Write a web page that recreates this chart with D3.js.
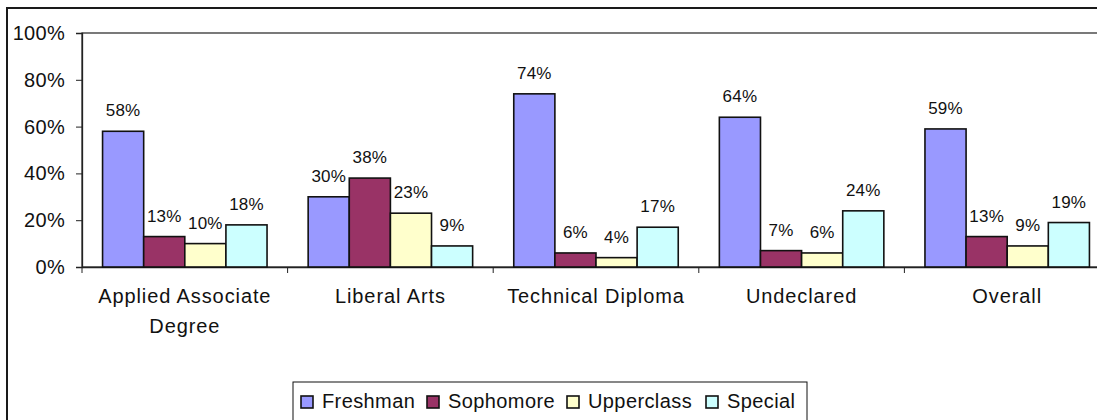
<!DOCTYPE html>
<html>
<head>
<meta charset="utf-8">
<script src="https://cdn.jsdelivr.net/npm/d3@7"></script>
<style>
  body { margin: 0; background: #fff; overflow: hidden; }
  svg { display: block; font-family: "Liberation Sans", Arial, sans-serif; }
</style>
</head>
<body>
<div id="chart"></div>
<script>
var categories = ['Applied Associate Degree', 'Liberal Arts', 'Technical Diploma', 'Undeclared', 'Overall'];
var seriesNames = ['Freshman', 'Sophomore', 'Upperclass', 'Special'];
var freshman = [58, 30, 74, 64, 59];
var sophomore = [13, 38, 6, 7, 13];
var upperclass = [10, 23, 4, 6, 9];
var special = [18, 9, 17, 24, 19];
var yTicks = [0, 20, 40, 60, 80, 100];
var colors = ['#9999FF', '#993366', '#FFFFCC', '#CCFFFF'];

var allSeries = [freshman, sophomore, upperclass, special];
var rows = categories.map(function(c, i) {
  return { cat: c, vals: seriesNames.map(function(s, j) { return { name: s, v: allSeries[j][i], idx: j }; }) };
});

var W = 1097, H = 420;
var plot = { left: 82, right: 1110, top: 33, bottom: 267 };

var svg = d3.select('#chart').append('svg')
  .attr('width', W)
  .attr('height', H);

// outer chart border (runs off the picture on the right and bottom)
svg.append('rect')
  .attr('x', 7).attr('y', 8)
  .attr('width', 1130).attr('height', 440)
  .attr('fill', '#fff')
  .attr('stroke', '#1a1a1a')
  .attr('stroke-width', 2);

var x0 = d3.scaleBand()
  .domain(categories)
  .range([plot.left, plot.right])
  .paddingInner(0).paddingOuter(0);

var x1 = d3.scaleBand()
  .domain(seriesNames)
  .range([0, x0.bandwidth()])
  .paddingInner(0).paddingOuter(0.5);

var y = d3.scaleLinear()
  .domain([0, 100])
  .range([plot.bottom, plot.top]);

// plot area frame
svg.append('rect')
  .attr('x', plot.left).attr('y', plot.top)
  .attr('width', plot.right - plot.left).attr('height', plot.bottom - plot.top)
  .attr('fill', 'none')
  .attr('stroke', '#333')
  .attr('stroke-width', 1.3);

// y axis
var yAxis = d3.axisLeft(y)
  .tickValues(yTicks)
  .tickFormat(function(d) { return d + '%'; })
  .tickSize(6)
  .tickPadding(11);

var yG = svg.append('g')
  .attr('transform', 'translate(' + plot.left + ',0)')
  .call(yAxis);
yG.select('.domain').attr('stroke', '#222').attr('stroke-width', 1.3);
yG.selectAll('.tick line').attr('stroke', '#222');
yG.selectAll('.tick text')
  .attr('fill', '#111')
  .style('font-size', '20px')
  .style('letter-spacing', '0.3px')
  .style('font-family', '"Liberation Sans", Arial, sans-serif');

// x axis line and category ticks
var xAxis = d3.axisBottom(x0).tickSize(0).tickFormat('');
var xG = svg.append('g')
  .attr('transform', 'translate(0,' + plot.bottom + ')')
  .call(xAxis);
xG.select('.domain').attr('stroke', '#222').attr('stroke-width', 1.3);
xG.selectAll('.tick').remove();

var bounds = categories.map(function(c) { return x0(c); });
bounds.push(x0(categories[categories.length - 1]) + x0.bandwidth());
xG.selectAll('line.sep')
  .data(bounds)
  .enter().append('line')
  .attr('class', 'sep')
  .attr('x1', function(d) { return d; })
  .attr('x2', function(d) { return d; })
  .attr('y1', 0).attr('y2', 6)
  .attr('stroke', '#222');

// bars
var groups = svg.selectAll('g.cat')
  .data(rows)
  .enter().append('g')
  .attr('class', 'cat')
  .attr('transform', function(d) { return 'translate(' + x0(d.cat) + ',0)'; });

groups.selectAll('rect')
  .data(function(d) { return d.vals; })
  .enter().append('rect')
  .attr('x', function(d) { return x1(d.name); })
  .attr('width', x1.bandwidth())
  .attr('y', function(d) { return y(d.v); })
  .attr('height', function(d) { return y(0) - y(d.v); })
  .attr('fill', function(d) { return colors[d.idx]; })
  .attr('stroke', '#111')
  .attr('stroke-width', 1.6);

// value labels
groups.selectAll('text.val')
  .data(function(d) { return d.vals; })
  .enter().append('text')
  .attr('class', 'val')
  .attr('x', function(d) { return x1(d.name) + x1.bandwidth() / 2; })
  .attr('y', function(d) { return y(d.v) - 15; })
  .attr('text-anchor', 'middle')
  .style('font-size', '17px')
  .style('letter-spacing', '0.2px')
  .attr('fill', '#111')
  .text(function(d) { return d.v + '%'; });

// category labels, wrapped to the band
var catText = svg.selectAll('text.cat')
  .data(categories)
  .enter().append('text')
  .attr('class', 'cat')
  .attr('text-anchor', 'middle')
  .attr('x', function(d) { return x0(d) + x0.bandwidth() / 2; })
  .attr('y', 303)
  .style('font-size', '20px')
  .style('letter-spacing', '0.9px')
  .attr('fill', '#111');

catText.each(function(d) {
  var el = d3.select(this);
  var cx = x0(d) + x0.bandwidth() / 2;
  var words = d.split(' ');
  var line = [];
  var tspan = el.append('tspan').attr('x', cx).attr('dy', 0);
  words.forEach(function(w) {
    line.push(w);
    tspan.text(line.join(' '));
    if (tspan.node().getComputedTextLength() > x0.bandwidth() * 0.92 && line.length > 1) {
      line.pop();
      tspan.text(line.join(' '));
      line = [w];
      tspan = el.append('tspan').attr('x', cx).attr('dy', 30).text(w);
    }
  });
});

// legend
var legend = svg.append('g');
legend.append('rect')
  .attr('x', 293).attr('y', 382)
  .attr('width', 514).attr('height', 60)
  .attr('fill', '#fff')
  .attr('stroke', '#111')
  .attr('stroke-width', 1);

var legX = [301, 427, 567, 706];
var items = legend.selectAll('g.item')
  .data(seriesNames)
  .enter().append('g')
  .attr('class', 'item')
  .attr('transform', function(d, i) { return 'translate(' + legX[i] + ',396)'; });

items.append('rect')
  .attr('width', 12).attr('height', 12)
  .attr('fill', function(d, i) { return colors[i]; })
  .attr('stroke', '#111')
  .attr('stroke-width', 1.6);

items.append('text')
  .attr('x', 21).attr('y', 12)
  .style('font-size', '20px')
  .style('letter-spacing', '0.4px')
  .attr('fill', '#111')
  .text(function(d) { return d; });
</script>
</body>
</html>
